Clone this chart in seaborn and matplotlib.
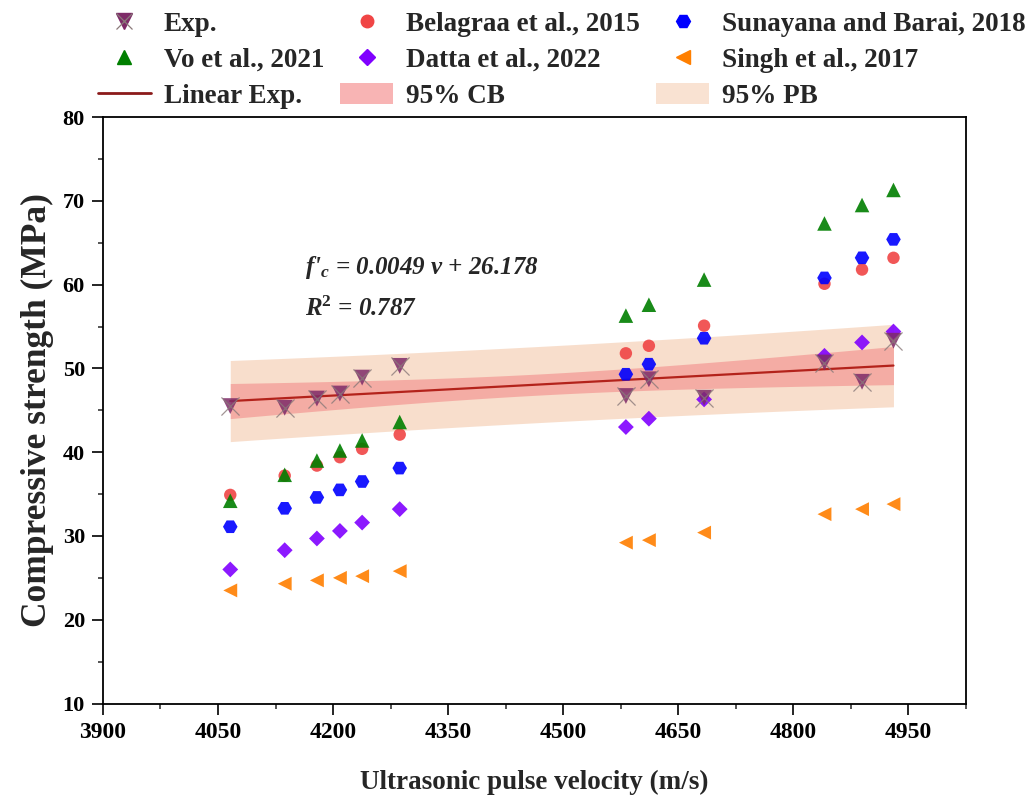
import numpy as np
import pandas as pd
import matplotlib
matplotlib.use("Agg")
import matplotlib.pyplot as plt
from matplotlib.lines import Line2D
from matplotlib.patches import Patch
from matplotlib.ticker import MultipleLocator
import seaborn as sns

# Ultrasonic pulse velocity (m/s) of the 12 mixes
upv = [4066, 4137, 4179, 4209, 4238, 4287, 4582, 4612, 4684, 4841, 4890, 4931]

# Compressive strength (MPa): experiment and published prediction models
exp_fc = [45.5, 45.3, 46.4, 47.0, 48.9, 50.3, 46.7, 48.7, 46.5, 50.7, 48.4, 53.3]
belagraa = [34.9, 37.2, 38.4, 39.4, 40.4, 42.1, 51.8, 52.7, 55.1, 60.1, 61.8, 63.2]
sunayana = [31.1, 33.3, 34.6, 35.5, 36.5, 38.1, 49.3, 50.5, 53.6, 60.8, 63.2, 65.4]
vo = [34.2, 37.3, 39.0, 40.2, 41.4, 43.6, 56.3, 57.6, 60.6, 67.3, 69.5, 71.3]
datta = [26.0, 28.3, 29.7, 30.6, 31.6, 33.2, 43.0, 44.0, 46.3, 51.5, 53.1, 54.4]
singh = [23.5, 24.3, 24.7, 25.0, 25.2, 25.8, 29.2, 29.5, 30.4, 32.6, 33.2, 33.8]

# Linear fit of the experimental data
slope, intercept, r2 = 0.0049, 26.178, 0.787

sns.set_theme(style="ticks")
plt.rcParams["font.family"] = ["Liberation Serif", "DejaVu Serif"]
plt.rcParams["font.weight"] = "bold"
plt.rcParams["mathtext.fontset"] = "custom"
plt.rcParams["mathtext.it"] = "Liberation Serif:italic:bold"
plt.rcParams["mathtext.rm"] = "Liberation Serif:bold"
plt.rcParams["mathtext.bf"] = "Liberation Serif:bold"

fig = plt.figure(figsize=(10.33, 7.99), dpi=100)
ax = fig.add_axes([0.0997, 0.1195, 0.835, 0.734])

df = pd.DataFrame({"v": upv, "exp": exp_fc, "bel": belagraa, "sun": sunayana,
                   "vo": vo, "datta": datta, "singh": singh})

# Confidence and prediction bands around the fitted line
v = np.array(upv, float)
y = np.array(exp_fc, float)
n = len(v)
xs = np.linspace(v.min(), v.max(), 200)
fit = slope * xs + intercept
resid = y - (slope * v + intercept)
s = np.sqrt(np.sum(resid ** 2) / (n - 2))
t = 2.228
sxx = np.sum((v - v.mean()) ** 2)
cb = t * s * np.sqrt(1 / n + (xs - v.mean()) ** 2 / sxx)
pb = t * s * np.sqrt(1 + 1 / n + (xs - v.mean()) ** 2 / sxx)

ax.fill_between(xs, fit - pb, fit + pb, color="#F7D9C4", alpha=0.85, lw=0, zorder=1)
ax.fill_between(xs, fit - cb, fit + cb, color="#F4A09A", alpha=0.8, lw=0, zorder=2)
line_df = pd.DataFrame({"v": xs, "fit": fit})
sns.lineplot(data=line_df, x="v", y="fit", ax=ax, color="#B3221B", lw=1.6, zorder=3)

series = [
    ("bel", "#F04545", "o", 80),
    ("sun", "#0000FF", "H", 110),
    ("vo", "#007F00", "^", 110),
    ("datta", "#8000FF", "D", 65),
    ("singh", "#FF7F00", "<", 100),
]
for col, c, m, sz in series:
    sns.scatterplot(data=df, x="v", y=col, ax=ax, color=c, marker=m, s=sz,
                    edgecolor="none", alpha=0.9, zorder=4)

sns.scatterplot(data=df, x="v", y="exp", ax=ax, color="#7E2B68", marker="v", s=130,
                edgecolor="none", alpha=0.85, zorder=5)
sns.scatterplot(data=df, x="v", y="exp", ax=ax, color="#8A7A7A", marker="x", s=170,
                linewidth=0.9, alpha=0.8, zorder=6)

ax.set_xlim(3900, 5025)
ax.set_ylim(10, 80)
ax.xaxis.set_major_locator(MultipleLocator(150))
ax.xaxis.set_minor_locator(MultipleLocator(75))
ax.yaxis.set_major_locator(MultipleLocator(10))
ax.yaxis.set_minor_locator(MultipleLocator(5))
ax.tick_params(axis="both", which="major", direction="out", length=8, width=1.2,
               colors="black", pad=5)
ax.tick_params(axis="x", which="major", labelsize=17)
ax.tick_params(axis="y", which="major", labelsize=16)
ax.tick_params(axis="both", which="minor", direction="out", length=3.8, width=1.1)
for sp in ax.spines.values():
    sp.set_visible(True)
    sp.set_linewidth(1.3)
    sp.set_color("black")
for lab in ax.get_xticklabels() + ax.get_yticklabels():
    lab.set_fontweight("bold")

ax.set_xlabel("Ultrasonic pulse velocity (m/s)", fontsize=19.5, fontweight="bold", labelpad=20)
ax.set_ylabel("Compressive strength (MPa)", fontsize=25.5, fontweight="bold", labelpad=6)

ax.text(4164, 62.0, r"f'$_{c}$ = 0.0049 v + 26.178", fontsize=18, fontweight="bold",
        fontstyle="italic", va="center", ha="left")
ax.text(4164, 57.1, r"R$^{2}$ = 0.787", fontsize=18, fontweight="bold",
        fontstyle="italic", va="center", ha="left")

h_exp = (Line2D([], [], ls="none", marker="v", color="#7E2B68", markersize=11),
         Line2D([], [], ls="none", marker="x", color="#8A7A7A", markersize=12, mew=0.9))
h_vo = Line2D([], [], ls="none", marker="^", color="#007F00", markersize=10)
h_lin = Line2D([], [], color="#8B1A1A", lw=2)
h_bel = Line2D([], [], ls="none", marker="o", color="#F04545", markersize=9)
h_dat = Line2D([], [], ls="none", marker="D", color="#8000FF", markersize=8)
h_cb = Patch(facecolor="#F8B4B4", edgecolor="none")
h_sun = Line2D([], [], ls="none", marker="H", color="#0000FF", markersize=10)
h_sin = Line2D([], [], ls="none", marker="<", color="#FF7F00", markersize=10)
h_pb = Patch(facecolor="#F9E2D2", edgecolor="none")
handles = [h_exp, h_vo, h_lin, h_bel, h_dat, h_cb, h_sun, h_sin, h_pb]
labels = ["Exp.", "Vo et al., 2021", "Linear Exp.",
          "Belagraa et al., 2015", "Datta et al., 2022", "95% CB",
          "Sunayana and Barai, 2018", "Singh et al., 2017", "95% PB"]
fig.legend(handles, labels, ncol=3, loc="upper left",
           bbox_to_anchor=(98 / 1033, 1 - 11 / 799), borderpad=0, borderaxespad=0,
           frameon=False, prop={"size": 19.5, "weight": "bold"}, columnspacing=0.6,
           handlelength=1.95, handleheight=0.82, handletextpad=0.48, labelspacing=0.37)

fig.savefig("out.png", dpi=100)
